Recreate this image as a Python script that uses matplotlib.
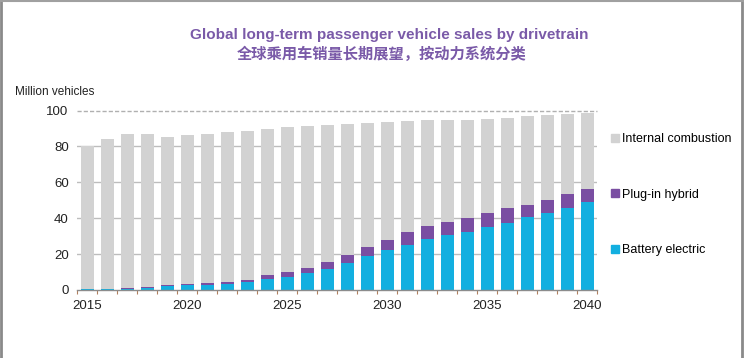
import numpy as np
import matplotlib
matplotlib.use('Agg')
from matplotlib import pyplot as plt
from matplotlib.patches import Patch
from matplotlib.lines import Line2D

plt.rcParams['font.family'] = ['Liberation Sans', 'DejaVu Sans']

years = list(range(2015, 2041))
totals = [80.2, 84.3, 86.9, 87.0, 85.0, 86.4, 87.0, 88.2, 88.8, 89.5, 90.6, 91.4, 91.9,
          92.5, 93.0, 93.6, 94.3, 94.9, 94.9, 94.9, 95.5, 96.0, 96.7, 97.3, 98.0, 98.6]
bev = [0.4, 0.5, 0.6, 1.1, 2.0, 2.7, 3.0, 3.5, 4.6, 5.9, 7.4, 9.3, 11.7,
       15.0, 18.9, 22.3, 25.3, 28.2, 30.8, 32.5, 35.1, 37.5, 40.7, 42.9, 45.9, 49.0]
phev = [0.2, 0.3, 0.5, 0.8, 0.6, 0.5, 0.7, 0.8, 1.0, 2.3, 2.4, 3.0, 4.1,
        4.5, 4.9, 5.7, 7.0, 7.5, 7.1, 7.8, 7.6, 8.0, 6.8, 7.2, 7.4, 7.3]
ice = [t - b - p for t, b, p in zip(totals, bev, phev)]

series_names = ['Internal combustion', 'Plug-in hybrid', 'Battery electric']
c_ice, c_phev, c_bev = '#d2d2d2', '#7a4ea2', '#13afe0'

fig = plt.figure(figsize=(7.44, 3.58), dpi=100)
ax = fig.add_axes([77 / 744, 1 - 290 / 358, 520 / 744, 179.5 / 358])

x = np.arange(len(years))
w = 0.65
ax.bar(x, bev, w, color=c_bev, zorder=3)
ax.bar(x, phev, w, bottom=bev, color=c_phev, zorder=3)
ax.bar(x, ice, w, bottom=np.array(bev) + np.array(phev), color=c_ice, zorder=3)

ax.set_xlim(-0.5, len(years) - 0.5)
ax.set_ylim(0, 100)

# gridlines
for v in [20, 40, 60, 80]:
    ax.axhline(v, color='#bdbdbd', lw=1, zorder=1)
ax.axhline(100, color='#b0b0b0', lw=1, ls=(0, (3, 1.5)), zorder=1, clip_on=False)

for s in ['top', 'right', 'left']:
    ax.spines[s].set_visible(False)
ax.spines['bottom'].set_color('#8c8c8c')
ax.spines['bottom'].set_linewidth(1)
ax.spines['bottom'].set_zorder(4)

ax.set_yticks([0, 20, 40, 60, 80, 100])
ax.tick_params(axis='y', length=0, pad=6, labelsize=9.5, colors='#222222')

lab_pos = [i for i, yv in enumerate(years) if yv % 5 == 0]
ax.set_xticks(lab_pos)
ax.set_xticklabels([str(years[i]) for i in lab_pos])
ax.set_xticks(np.arange(-0.5, len(years), 1), minor=True)
ax.tick_params(axis='x', which='major', length=0, pad=7, labelsize=9.5, colors='#222222')
ax.tick_params(axis='x', which='minor', length=3, color='#b08060', width=0.8)

fig.text(15 / 744, 1 - 92 / 358, 'Million vehicles', fontsize=8.5, color='#222222',
         va='center', ha='left')

fig.text(389 / 744, 1 - 35.5 / 358, 'Global long-term passenger vehicle sales by drivetrain',
         fontsize=11, fontweight='bold', color='#7a5aa8', ha='center', va='center')
fig.text(382 / 744, 1 - 53.5 / 358, '全球乘用车销量长期展望，按动力系统分类',
         fontsize=11, fontweight='bold', color='#7a5aa8', ha='center', va='center',
         family=['Noto Sans CJK SC', 'DejaVu Sans'])

handles = [Patch(color=c_ice), Patch(color=c_phev), Patch(color=c_bev)]
leg = fig.legend(handles, series_names, loc='upper left',
                 bbox_to_anchor=(606 / 744, 1 - 128 / 358), frameon=False,
                 fontsize=9, handlelength=0.6, handleheight=0.6, handletextpad=0.3,
                 labelspacing=3.5, borderaxespad=0)

# frame lines around the picture (top, left, right)
fig.add_artist(Line2D([0.002, 0.002], [0, 1], color='#8a8a8a', lw=2, transform=fig.transFigure))
fig.add_artist(Line2D([0.997, 0.997], [0, 1], color='#8a8a8a', lw=2, transform=fig.transFigure))
fig.add_artist(Line2D([0, 1], [0.998, 0.998], color='#a0a0a0', lw=1.5, transform=fig.transFigure))

fig.savefig('out.png', dpi=100)
